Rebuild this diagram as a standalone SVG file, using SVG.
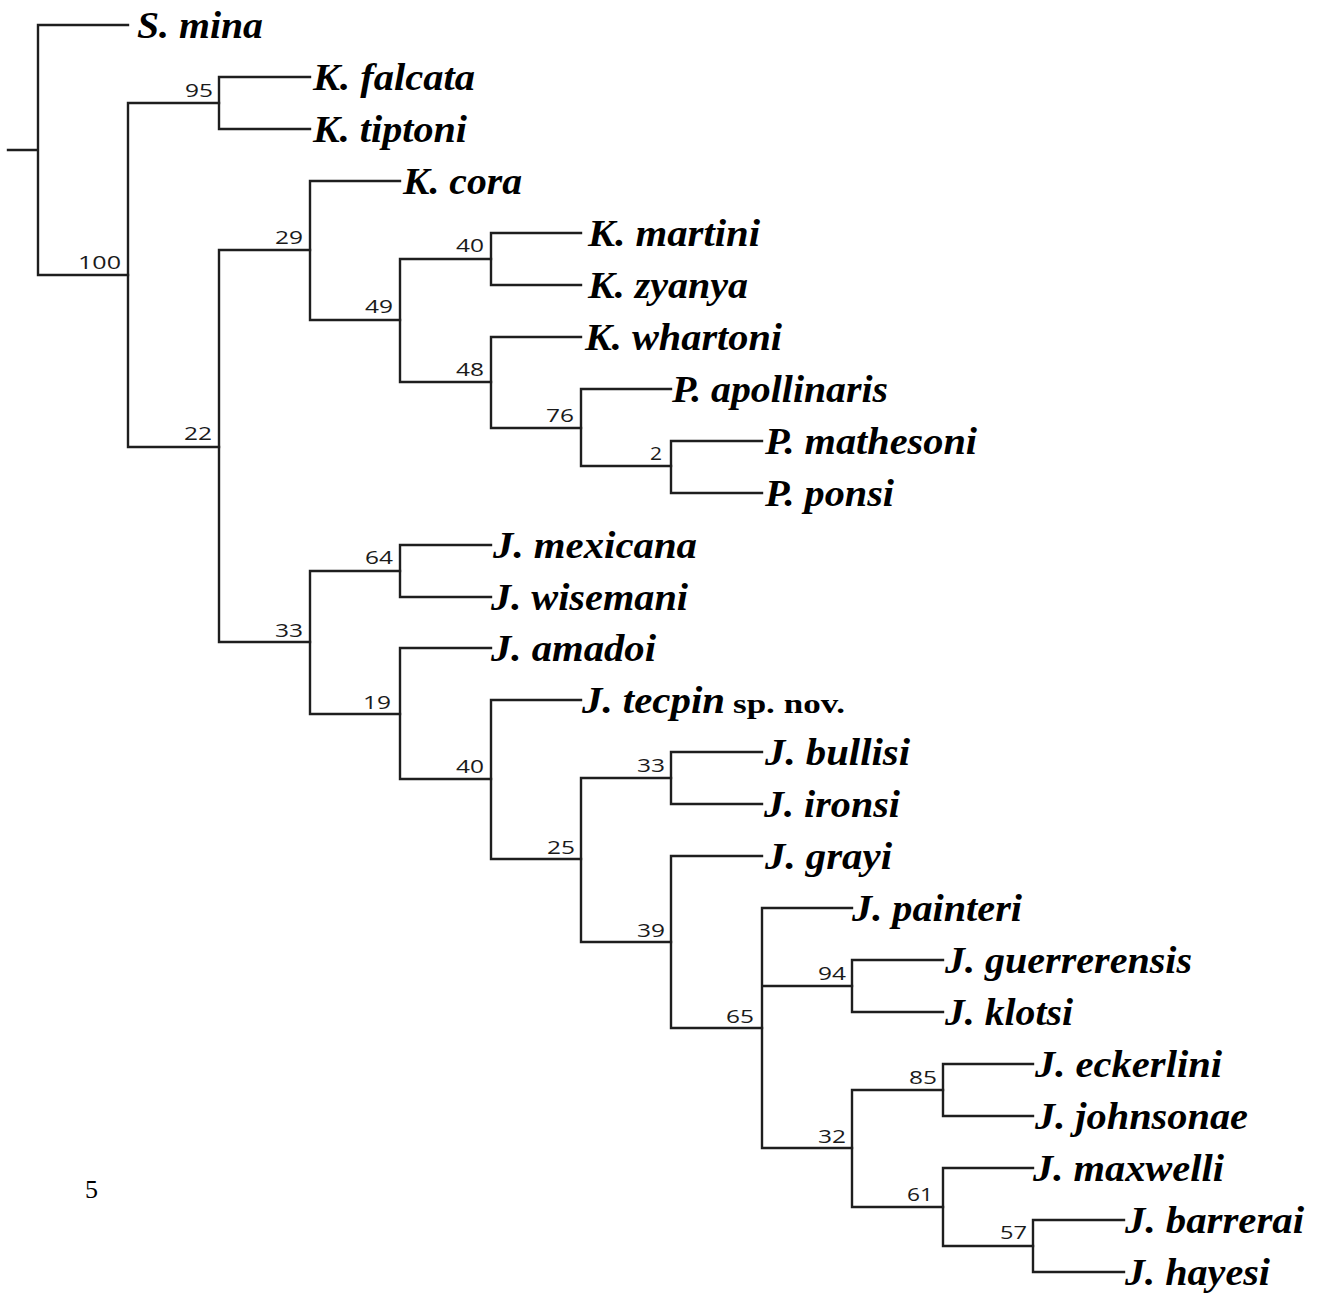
<svg xmlns="http://www.w3.org/2000/svg" width="1318" height="1297" viewBox="0 0 1318 1297">
<style>
.e{fill:none;stroke:#1e1e1e;stroke-width:2.4;stroke-linecap:square}
.t{font-family:"Liberation Serif","Times New Roman",serif;font-weight:bold;font-style:italic;font-size:37px;fill:#000}
.sp{font-family:"Liberation Serif","Times New Roman",serif;font-weight:bold;font-size:28px;fill:#000}
.b{font-family:"Open Sans","DejaVu Sans",sans-serif;font-size:18px;fill:#1a1a1a}
.pg{font-family:"Liberation Serif","Times New Roman",serif;font-size:26px;fill:#000}
</style>
<rect width="1318" height="1297" fill="#fff"/>
<g id="connectors">
<path class="e" d="M8,150H38M38,25V275M38,25H128M38,275H128"/>
<path class="e" d="M128,103V447M128,103H219M128,447H219"/>
<path class="e" d="M219,77V129M219,77H310M219,129H310"/>
<path class="e" d="M219,250V642M219,250H310M219,642H310"/>
<path class="e" d="M310,181V320M310,181H400M310,320H400"/>
<path class="e" d="M400,259V382M400,259H491M400,382H491"/>
<path class="e" d="M491,233V285M491,233H581M491,285H581"/>
<path class="e" d="M491,337V428M491,337H581M491,428H581"/>
<path class="e" d="M581,389V466M581,389H671M581,466H671"/>
<path class="e" d="M671,441V493M671,441H762M671,493H762"/>
<path class="e" d="M310,571V714M310,571H400M310,714H400"/>
<path class="e" d="M400,545V597M400,545H491M400,597H491"/>
<path class="e" d="M400,648V779M400,648H491M400,779H491"/>
<path class="e" d="M491,700V859M491,700H581M491,859H581"/>
<path class="e" d="M581,778V942M581,778H671M581,942H671"/>
<path class="e" d="M671,752V804M671,752H762M671,804H762"/>
<path class="e" d="M671,856V1028M671,856H762M671,1028H762"/>
<path class="e" d="M762,908V1148M762,908H852M762,986H852M762,1148H852"/>
<path class="e" d="M852,960V1012M852,960H943M852,1012H943"/>
<path class="e" d="M852,1090V1207M852,1090H943M852,1207H943"/>
<path class="e" d="M943,1064V1116M943,1064H1033M943,1116H1033"/>
<path class="e" d="M943,1168V1246M943,1168H1033M943,1246H1033"/>
<path class="e" d="M1033,1220V1272M1033,1220H1124M1033,1272H1124"/>
</g>
<g id="support-values">
<text class="b" x="78" y="269" textLength="43" lengthAdjust="spacingAndGlyphs">100</text>
<text class="b" x="185" y="97" textLength="28" lengthAdjust="spacingAndGlyphs">95</text>
<text class="b" x="184" y="440" textLength="28" lengthAdjust="spacingAndGlyphs">22</text>
<text class="b" x="275" y="244" textLength="28" lengthAdjust="spacingAndGlyphs">29</text>
<text class="b" x="365" y="313" textLength="28" lengthAdjust="spacingAndGlyphs">49</text>
<text class="b" x="456" y="252" textLength="28" lengthAdjust="spacingAndGlyphs">40</text>
<text class="b" x="456" y="376" textLength="28" lengthAdjust="spacingAndGlyphs">48</text>
<text class="b" x="546" y="422" textLength="28" lengthAdjust="spacingAndGlyphs">76</text>
<text class="b" x="650" y="460" textLength="12" lengthAdjust="spacingAndGlyphs">2</text>
<text class="b" x="275" y="637" textLength="28" lengthAdjust="spacingAndGlyphs">33</text>
<text class="b" x="365" y="564" textLength="28" lengthAdjust="spacingAndGlyphs">64</text>
<text class="b" x="363" y="709" textLength="28" lengthAdjust="spacingAndGlyphs">19</text>
<text class="b" x="456" y="773" textLength="28" lengthAdjust="spacingAndGlyphs">40</text>
<text class="b" x="547" y="854" textLength="28" lengthAdjust="spacingAndGlyphs">25</text>
<text class="b" x="637" y="772" textLength="28" lengthAdjust="spacingAndGlyphs">33</text>
<text class="b" x="637" y="937" textLength="28" lengthAdjust="spacingAndGlyphs">39</text>
<text class="b" x="726" y="1023" textLength="28" lengthAdjust="spacingAndGlyphs">65</text>
<text class="b" x="818" y="980" textLength="28" lengthAdjust="spacingAndGlyphs">94</text>
<text class="b" x="818" y="1143" textLength="28" lengthAdjust="spacingAndGlyphs">32</text>
<text class="b" x="909" y="1084" textLength="28" lengthAdjust="spacingAndGlyphs">85</text>
<text class="b" x="907" y="1201" textLength="26" lengthAdjust="spacingAndGlyphs">61</text>
<text class="b" x="1000" y="1239" textLength="27" lengthAdjust="spacingAndGlyphs">57</text>
</g>
<g id="S_mina"><text class="t" x="137" y="38" textLength="126" lengthAdjust="spacingAndGlyphs">S. mina</text></g>
<g id="K_falcata"><text class="t" x="313" y="90" textLength="162" lengthAdjust="spacingAndGlyphs">K. falcata</text></g>
<g id="K_tiptoni"><text class="t" x="313" y="142" textLength="154" lengthAdjust="spacingAndGlyphs">K. tiptoni</text></g>
<g id="K_cora"><text class="t" x="403" y="194" textLength="119" lengthAdjust="spacingAndGlyphs">K. cora</text></g>
<g id="K_martini"><text class="t" x="588" y="246" textLength="172" lengthAdjust="spacingAndGlyphs">K. martini</text></g>
<g id="K_zyanya"><text class="t" x="588" y="298" textLength="160" lengthAdjust="spacingAndGlyphs">K. zyanya</text></g>
<g id="K_whartoni"><text class="t" x="585" y="350" textLength="197" lengthAdjust="spacingAndGlyphs">K. whartoni</text></g>
<g id="P_apollinaris"><text class="t" x="672" y="402" textLength="216" lengthAdjust="spacingAndGlyphs">P. apollinaris</text></g>
<g id="P_mathesoni"><text class="t" x="765" y="454" textLength="212" lengthAdjust="spacingAndGlyphs">P. mathesoni</text></g>
<g id="P_ponsi"><text class="t" x="765" y="506" textLength="129" lengthAdjust="spacingAndGlyphs">P. ponsi</text></g>
<g id="J_mexicana"><text class="t" x="493" y="558" textLength="204" lengthAdjust="spacingAndGlyphs">J. mexicana</text></g>
<g id="J_wisemani"><text class="t" x="491" y="610" textLength="197" lengthAdjust="spacingAndGlyphs">J. wisemani</text></g>
<g id="J_amadoi"><text class="t" x="491" y="661" textLength="165" lengthAdjust="spacingAndGlyphs">J. amadoi</text></g>
<g id="J_tecpin"><text class="t" x="582" y="713" textLength="143" lengthAdjust="spacingAndGlyphs">J. tecpin</text><text class="sp" x="733" y="713" textLength="112" lengthAdjust="spacingAndGlyphs">sp. nov.</text></g>
<g id="J_bullisi"><text class="t" x="765" y="765" textLength="145" lengthAdjust="spacingAndGlyphs">J. bullisi</text></g>
<g id="J_ironsi"><text class="t" x="764" y="817" textLength="136" lengthAdjust="spacingAndGlyphs">J. ironsi</text></g>
<g id="J_grayi"><text class="t" x="765" y="869" textLength="127" lengthAdjust="spacingAndGlyphs">J. grayi</text></g>
<g id="J_painteri"><text class="t" x="852" y="921" textLength="170" lengthAdjust="spacingAndGlyphs">J. painteri</text></g>
<g id="J_guerrerensis"><text class="t" x="945" y="973" textLength="247" lengthAdjust="spacingAndGlyphs">J. guerrerensis</text></g>
<g id="J_klotsi"><text class="t" x="945" y="1025" textLength="128" lengthAdjust="spacingAndGlyphs">J. klotsi</text></g>
<g id="J_eckerlini"><text class="t" x="1035" y="1077" textLength="187" lengthAdjust="spacingAndGlyphs">J. eckerlini</text></g>
<g id="J_johnsonae"><text class="t" x="1035" y="1129" textLength="213" lengthAdjust="spacingAndGlyphs">J. johnsonae</text></g>
<g id="J_maxwelli"><text class="t" x="1033" y="1181" textLength="191" lengthAdjust="spacingAndGlyphs">J. maxwelli</text></g>
<g id="J_barrerai"><text class="t" x="1125" y="1233" textLength="179" lengthAdjust="spacingAndGlyphs">J. barrerai</text></g>
<g id="J_hayesi"><text class="t" x="1125" y="1285" textLength="145" lengthAdjust="spacingAndGlyphs">J. hayesi</text></g>
<text class="pg" x="85" y="1198">5</text>
</svg>
